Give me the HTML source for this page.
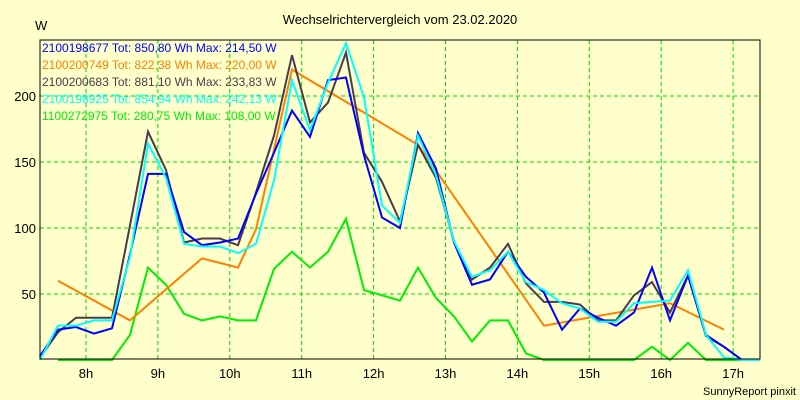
<!DOCTYPE html>
<html><head><meta charset="utf-8"><style>
body{margin:0;background:#ffffcc;}
svg{display:block;font-family:"Liberation Sans",sans-serif;}
</style></head><body>
<svg id="chart" width="800" height="400">
<rect width="800" height="400" fill="#ffffcc"/>
<text x="400" y="24" text-anchor="middle" font-size="13">Wechselrichtervergleich vom 23.02.2020</text>
<text x="35" y="30" font-size="13">W</text>
<text x="796" y="395" text-anchor="end" font-size="11">SunnyReport pinxit</text>
<g id="grid"></g>
<g id="series"></g>
<rect x="40" y="40" width="720" height="319" fill="none" stroke="#000" stroke-width="1"/>
<g id="legend"></g>
<g id="ticks"></g>
</svg>
<script>
const hourTicks=[8,9,10,11,12,13,14,15,16,17];
const yTicks=[50,100,150,200];
const blue=[3,23,25,20,24,80,141,141,97,87,89,92,126,157,189,169,212,214,155,108,100,172,145,89,57,61,82,63,51,23,39,32,26,36,70,30,64,19,10,0,0];
const dark=[2,21,32,32,32,102,173,144,89,92,92,87,127,170,231,180,195,233,157,135,105,163,138,90,61,70,88,58,44,44,42,30,30,49,59,36,64,18,10,0,null];
const cyan=[0,26,26,30,30,78,164,138,88,86,86,81,88,136,212,174,210,240,199,117,104,170,140,90,63,68,82,59,53,43,39,29,29,43,44,45,68,19,2,0,0];
const green=[null,0,0,0,0,19,70,57,35,30,33,30,30,69,82,70,82,107,53,49,45,70,47,33,14,30,30,5,0,0,0,0,0,0,10,0,13,0,0,0,null];
const orangeIdx=[1,5,9,11,12,14,21,28,35,38];
const orangeVal=[60,30,77,70,99,220,163,26,43,23];
const legendLabels=["2100198677 Tot: 850,80 Wh Max: 214,50 W","2100200749 Tot: 822,38 Wh Max: 220,00 W","2100200683 Tot: 881,10 Wh Max: 233,83 W","2100198925 Tot: 854,94 Wh Max: 242,13 W","1100272975 Tot: 280,75 Wh Max: 108,00 W"];
const legendColors=["#0000ff","#ff8000","#4b3a4b","#00ffff","#00ee00"];
const NS="http://www.w3.org/2000/svg";
const x0=40,y0=360,ppu=1.32,step=18;
const ix=k=>x0+k*step;
const hx=h=>86+(h-8)*71.9;
const vy=v=>y0-v*ppu;
const grid=document.getElementById('grid'),ticks=document.getElementById('ticks');
hourTicks.forEach(h=>{
 const l=document.createElementNS(NS,'line');
 
 
 l.setAttribute('x1',hx(h));l.setAttribute('x2',hx(h));l.setAttribute('y1',40);l.setAttribute('y2',359);
 l.setAttribute('stroke','#00dd00');l.setAttribute('stroke-dasharray','4,3');
 grid.appendChild(l);
 const t=document.createElementNS(NS,'text');
 
 
 t.setAttribute('x',hx(h));t.setAttribute('y',378);t.setAttribute('text-anchor','middle');t.setAttribute('font-size','13');
 t.textContent=h+'h';ticks.appendChild(t);
});
yTicks.forEach(v=>{
 const l=document.createElementNS(NS,'line');
 
 
 l.setAttribute('x1',40);l.setAttribute('x2',760);l.setAttribute('y1',vy(v));l.setAttribute('y2',vy(v));
 l.setAttribute('stroke','#00dd00');l.setAttribute('stroke-dasharray','4,3');
 grid.appendChild(l);
 const t=document.createElementNS(NS,'text');
 
 
 t.setAttribute('x',36);t.setAttribute('y',vy(v)+5);t.setAttribute('text-anchor','end');t.setAttribute('font-size','13');
 t.textContent=v;ticks.appendChild(t);
});
const ser=document.getElementById('series');
function drawLine(pts,color,name){
 const p=document.createElementNS(NS,'polyline');
 
 
 p.setAttribute('points',pts.map(q=>q[0]+','+q[1]).join(' '));
 p.setAttribute('fill','none');p.setAttribute('stroke',color);p.setAttribute('stroke-width','2');
 ser.appendChild(p);
}
function series(arr){const o=[];arr.forEach((v,k)=>{if(v!==null)o.push([ix(k),vy(v)]);});return o;}
drawLine(series(green),legendColors[4],'series-1100272975');
drawLine(orangeIdx.map((k,i)=>[ix(k),vy(orangeVal[i])]),legendColors[1],'series-2100200749');
drawLine(series(dark),legendColors[2],'series-2100200683');
drawLine(series(blue),legendColors[0],'series-2100198677');
drawLine(series(cyan),legendColors[3],'series-2100198925');
const leg=document.getElementById('legend');
legendLabels.forEach((s,i)=>{
 const t=document.createElementNS(NS,'text');
 
 
 t.setAttribute('x',42);t.setAttribute('y',52+i*17);t.setAttribute('font-size','12');t.setAttribute('fill',legendColors[i]);
 t.textContent=s;leg.appendChild(t);
});
</script>
</body></html>
